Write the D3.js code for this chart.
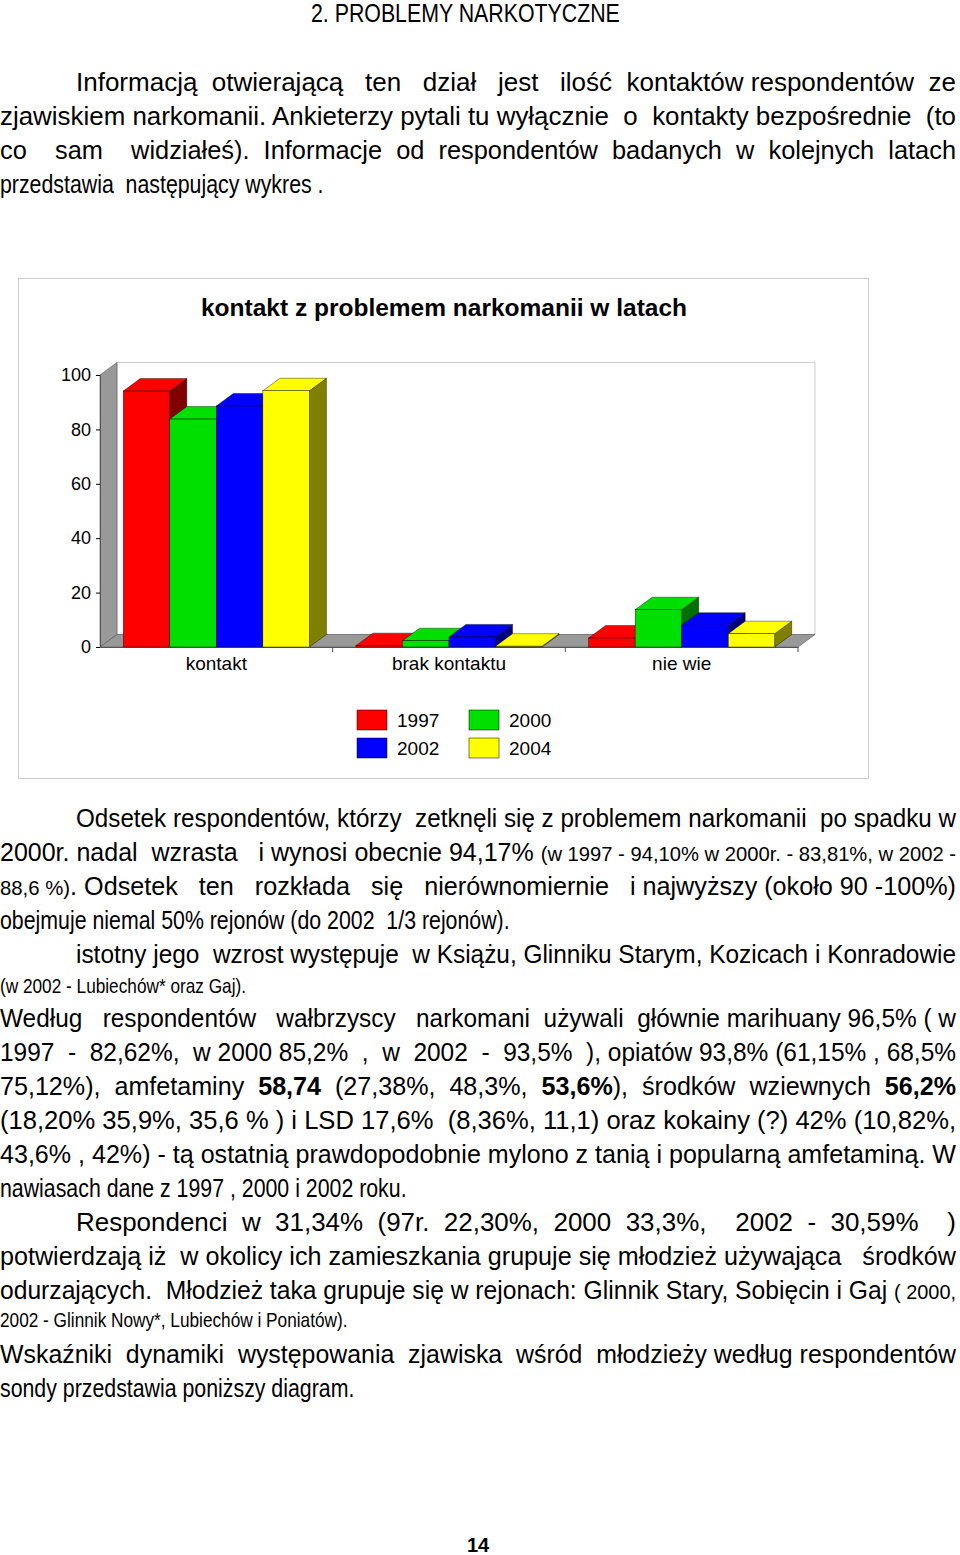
<!DOCTYPE html>
<html><head><meta charset="utf-8">
<script src="https://cdn.jsdelivr.net/npm/d3@7/dist/d3.min.js"></script>
<style>
body{margin:0;width:960px;height:1555px;background:#fff;position:relative;overflow:hidden;font-family:"Liberation Sans",Arial,sans-serif;color:#000}
.ln{position:absolute;left:0;font-size:26px;line-height:34px;white-space:nowrap;transform-origin:0 50%;display:inline-block}
.s{font-size:21px}
#chart{position:absolute;left:0;top:0}
</style></head><body>
<svg id="chart" width="960" height="1555"></svg>
<script>
const categories=["kontakt","brak kontaktu","nie wie"];
const seriesNames=["1997","2000","2002","2004"];
const s1997=[94.1,0.5,3.3];
const s2000=[83.8,2.3,13.7];
const s2002=[88.6,3.7,8.0];
const s2004=[94.2,0.3,4.9];
const yTicks=[0,20,40,60,80,100];
const colors=["#ff0000","#00e000","#0000ff","#ffff00"];
const sides=["#800000","#007000","#000080","#808000"];
const series=[s1997,s2000,s2002,s2004];

const svg=d3.select("#chart");
svg.append("rect").attr("x",18.5).attr("y",278.5).attr("width",850).attr("height",500).attr("fill","#fff").attr("stroke","#ccc");
svg.append("text").attr("x",444).attr("y",316).attr("text-anchor","middle").attr("font-weight","bold").attr("font-size",24.5).text("kontakt z problemem narkomanii w latach");

const x0=100,x1=798,dx=17,dy=12.5;
const y=d3.scaleLinear().domain([0,100]).range([647,375]);
const x=d3.scaleBand().domain(categories).range([x0,x1]);
const xi=d3.scaleBand().domain(seriesNames).range([0,x.bandwidth()]).paddingOuter(0.5).paddingInner(0);
svg.append("polygon").attr("points",[[x0+dx,y(100)-dy],[x1+dx,y(100)-dy],[x1+dx,y(0)-dy],[x0+dx,y(0)-dy]].join(" ")).attr("fill","#fff").attr("stroke","#ccc");
svg.append("polygon").attr("points",[[x0,y(100)],[x0+dx,y(100)-dy],[x0+dx,y(0)-dy],[x0,y(0)]].join(" ")).attr("fill","#999").attr("stroke","#555").attr("stroke-width",0.6);
svg.append("polygon").attr("points",[[x0,y(0)],[x0+dx,y(0)-dy],[x1+dx,y(0)-dy],[x1,y(0)]].join(" ")).attr("fill","#999").attr("stroke","#555").attr("stroke-width",0.6);
const ax=svg.append("g").attr("transform",`translate(${x0},0)`).call(d3.axisLeft(y).tickValues(yTicks).tickSize(4).tickPadding(5));
ax.select(".domain").attr("stroke","#555");
ax.selectAll("text").attr("font-size",18);
const xa=svg.append("g").attr("transform",`translate(0,${y(0)})`).call(d3.axisBottom(x).tickSize(0).tickPadding(10));
xa.select(".domain").attr("stroke","#555");
xa.selectAll("text").attr("font-size",19);
categories.forEach(c=>svg.append("line").attr("x1",x(c)+x.bandwidth()).attr("x2",x(c)+x.bandwidth()).attr("y1",y(0)).attr("y2",y(0)+5).attr("stroke","#555"));
categories.forEach((c,ci)=>{
  seriesNames.forEach((s,si)=>{
    const v=series[si][ci];
    const bx=x(c)+xi(s), w=xi.bandwidth(), top=y(v), bot=y(0);
    const g=svg.append("g");
    g.append("polygon").attr("points",[[bx+w,top],[bx+w+dx,top-dy],[bx+w+dx,bot-dy],[bx+w,bot]].join(" ")).attr("fill",sides[si]).attr("stroke","#000").attr("stroke-width",0.4);
    g.append("polygon").attr("points",[[bx,top],[bx+dx,top-dy],[bx+w+dx,top-dy],[bx+w,top]].join(" ")).attr("fill",colors[si]).attr("stroke","#000").attr("stroke-width",0.4);
    g.append("rect").attr("x",bx).attr("y",top).attr("width",w).attr("height",bot-top).attr("fill",colors[si]).attr("stroke","#000").attr("stroke-width",0.4);
  });
});
const lp=[[357,710],[469,710],[357,738],[469,738]];
seriesNames.forEach((s,i)=>{
  svg.append("rect").attr("x",lp[i][0]).attr("y",lp[i][1]).attr("width",30).attr("height",20).attr("fill",colors[i]).attr("stroke","#000").attr("stroke-width",0.5);
  svg.append("text").attr("x",lp[i][0]+40).attr("y",lp[i][1]+17).attr("font-size",19).text(s);
});
</script>
<div class="ln" data-sc="0.82" style="top:-4px;left:311px">2. PROBLEMY NARKOTYCZNE</div>
<div class="ln" data-w="880" style="top:65px;left:76px">Informacją &nbsp;otwierającą &nbsp; ten &nbsp; dział &nbsp; jest &nbsp; ilość &nbsp;kontaktów respondentów &nbsp;ze</div>
<div class="ln" data-w="956" style="top:99px">zjawiskiem narkomanii. Ankieterzy pytali tu wyłącznie &nbsp;o &nbsp;kontakty bezpośrednie &nbsp;(to</div>
<div class="ln" data-w="956" style="top:133px">co &nbsp; &nbsp;sam &nbsp; &nbsp;widziałeś). &nbsp;Informacje &nbsp;od &nbsp;respondentów &nbsp;badanych &nbsp;w &nbsp;kolejnych &nbsp;latach</div>
<div class="ln" data-sc="0.82" style="top:167px">przedstawia &nbsp;następujący wykres .</div>

<div class="ln" data-w="880" style="top:801px;left:76px">Odsetek respondentów, którzy &nbsp;zetknęli się z problemem narkomanii &nbsp;po spadku w</div>
<div class="ln" data-w="956" style="top:835px">2000r. nadal &nbsp;wzrasta &nbsp; i wynosi obecnie 94,17% <span class="s">(w 1997 - 94,10% w 2000r. - 83,81%, w 2002 -</span></div>
<div class="ln" data-w="956" style="top:869px"><span class="s">88,6 %)</span>. Odsetek &nbsp; ten &nbsp; rozkłada &nbsp; się &nbsp; nierównomiernie &nbsp; i najwyższy (około 90 -100%)</div>
<div class="ln" data-sc="0.82" style="top:903px">obejmuje niemal 50% rejonów (do 2002&nbsp; 1/3 rejonów).</div>
<div class="ln" data-w="880" style="top:937px;left:76px">istotny jego &nbsp;wzrost występuje &nbsp;w Książu, Glinniku Starym, Kozicach i Konradowie</div>
<div class="ln s" data-sc="0.82" style="top:969px">(w 2002 - Lubiechów* oraz Gaj).</div>
<div class="ln" data-w="956" style="top:1001px">Według &nbsp; respondentów &nbsp; wałbrzyscy &nbsp; narkomani &nbsp;używali &nbsp;głównie marihuany 96,5% ( w</div>
<div class="ln" data-w="956" style="top:1035px">1997 &nbsp;- &nbsp;82,62%, &nbsp;w 2000 85,2% &nbsp;, &nbsp;w &nbsp;2002 &nbsp;- &nbsp;93,5% &nbsp;), opiatów 93,8% (61,15% , 68,5%</div>
<div class="ln" data-w="956" style="top:1069px">75,12%), &nbsp;amfetaminy &nbsp;<b>58,74</b> &nbsp;(27,38%, &nbsp;48,3%, &nbsp;<b>53,6%</b>), &nbsp;środków &nbsp;wziewnych &nbsp;<b>56,2%</b></div>
<div class="ln" data-w="956" style="top:1103px">(18,20% 35,9%, 35,6 % ) i LSD 17,6% &nbsp;(8,36%, 11,1) oraz kokainy (?) 42% (10,82%,</div>
<div class="ln" data-w="956" style="top:1137px">43,6% , 42%) - tą ostatnią prawdopodobnie mylono z tanią i popularną amfetaminą. W</div>
<div class="ln" data-sc="0.82" style="top:1171px">nawiasach dane z 1997 , 2000 i 2002 roku.</div>
<div class="ln" data-w="880" style="top:1205px;left:76px">Respondenci &nbsp;w &nbsp;31,34% &nbsp;(97r. &nbsp;22,30%, &nbsp;2000 &nbsp;33,3%, &nbsp; &nbsp;2002 &nbsp;- &nbsp;30,59% &nbsp; &nbsp;)</div>
<div class="ln" data-w="956" style="top:1239px">potwierdzają iż &nbsp;w okolicy ich zamieszkania grupuje się młodzież używająca &nbsp; środków</div>
<div class="ln" data-w="956" style="top:1273px">odurzających. &nbsp;Młodzież taka grupuje się w rejonach: Glinnik Stary, Sobięcin i Gaj <span class="s">( 2000,</span></div>
<div class="ln s" data-sc="0.82" style="top:1303px">2002 - Glinnik Nowy*, Lubiechów i Poniatów).</div>
<div class="ln" data-w="956" style="top:1337px">Wskaźniki &nbsp;dynamiki &nbsp;występowania &nbsp;zjawiska &nbsp;wśród &nbsp;młodzieży według respondentów</div>
<div class="ln" data-sc="0.82" style="top:1371px">sondy przedstawia poniższy diagram.</div>
<div class="ln" style="top:1528px;left:467px;font-weight:bold;font-size:20px">14</div>
<script>
document.querySelectorAll(".ln").forEach(el=>{
  const w=el.getBoundingClientRect().width;
  let sc=1;
  if(el.dataset.w) sc=(+el.dataset.w)/w;
  else if(el.dataset.sc) sc=+el.dataset.sc;
  el.style.transform=`scaleX(${sc})`;
});
</script>
</body></html>
